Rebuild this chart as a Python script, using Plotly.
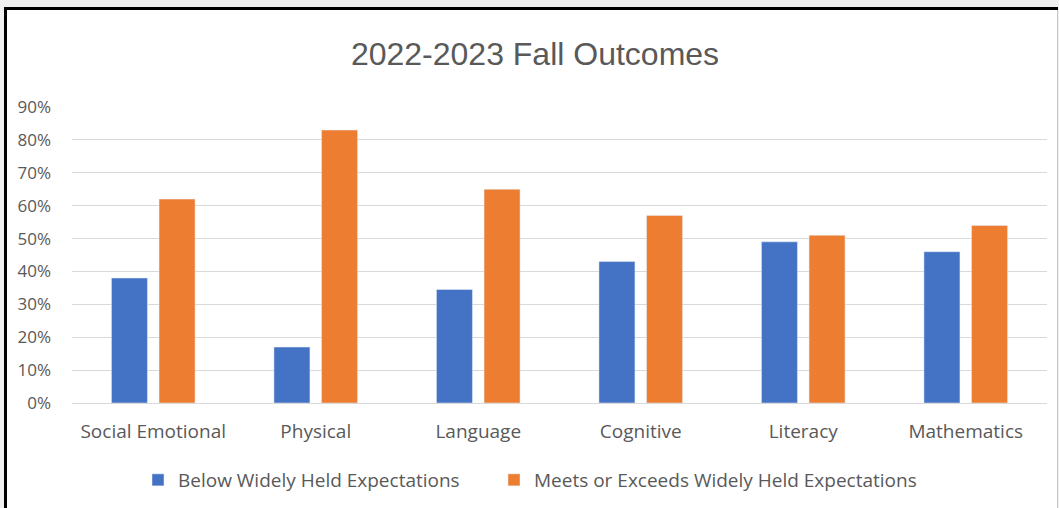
import plotly.graph_objects as go

categories = ["Social Emotional", "Physical", "Language", "Cognitive", "Literacy", "Mathematics"]
below = [0.38, 0.17, 0.345, 0.43, 0.49, 0.46]
meets = [0.62, 0.83, 0.65, 0.57, 0.51, 0.54]
series_names = ["Below Widely Held Expectations", "Meets or Exceeds Widely Held Expectations"]
y_ticks = [0, 0.1, 0.2, 0.3, 0.4, 0.5, 0.6, 0.7, 0.8, 0.9]

W, H = 1059, 508
ML, MR, MT, MB = 72, 12, 107, 105
PW, PH = W - ML - MR, H - MT - MB

def px(x):
    return (x - ML) / PW

def py(y):
    return (H - MB - y) / PH

FONT = "Open Sans"
GRAY = "#595959"

fig = go.Figure()
fig.add_trace(go.Bar(x=categories, y=below, name=series_names[0], marker_color="#4472C4",
                     legend="legend", showlegend=True))
fig.add_trace(go.Bar(x=categories, y=meets, name=series_names[1], marker_color="#ED7D31",
                     legend="legend2", showlegend=True))

shapes = [
    dict(type="rect", xref="paper", yref="paper", x0=px(4), x1=px(1058), y0=py(7), y1=py(510),
         fillcolor="white", line=dict(width=0), layer="below"),
    dict(type="line", xref="paper", yref="paper", x0=px(5.5), x1=px(5.5), y0=py(7), y1=py(512),
         line=dict(color="black", width=3), layer="below"),
    dict(type="line", xref="paper", yref="paper", x0=px(4), x1=px(1058), y0=py(8.5), y1=py(8.5),
         line=dict(color="black", width=3), layer="below"),
    dict(type="line", xref="paper", yref="paper", x0=px(1057.5), x1=px(1057.5), y0=py(10), y1=py(512),
         line=dict(color="#c8c8c8", width=1), layer="below"),
]

legend_common = dict(orientation="h", xref="container", xanchor="left",
                     y=1 - 480 / H, yref="container", yanchor="middle",
                     font=dict(family=FONT, size=19, color=GRAY), bgcolor="rgba(0,0,0,0)",
                     itemwidth=30, visible=True)

fig.update_layout(
    width=W, height=H,
    showlegend=True,
    margin=dict(l=ML, r=MR, t=MT, b=MB, pad=0),
    paper_bgcolor="#f0f0f0",
    plot_bgcolor="rgba(0,0,0,0)",
    shapes=shapes,
    title=dict(text="2022-2023 Fall Outcomes", x=535 / W, xref="container", xanchor="center",
               y=1 - 54 / H, yref="container", yanchor="middle",
               font=dict(family="Liberation Sans, Arial", size=32, color=GRAY)),
    barmode="group",
    bargap=0.414,
    bargroupgap=0.244,
    font=dict(family=FONT, color=GRAY, size=17),
    legend=dict(x=138 / W, **legend_common),
    legend2=dict(x=494 / W, **legend_common),
    xaxis=dict(showgrid=False, showline=False, zeroline=False, ticks="",
               tickfont=dict(family=FONT, size=19, color=GRAY), ticklabelstandoff=15),
    yaxis=dict(range=[0, 0.9], tickvals=y_ticks, tickformat=".0%", showgrid=True,
               gridcolor="#d9d9d9", gridwidth=1, zeroline=True, zerolinecolor="#d9d9d9",
               zerolinewidth=1, showline=False, ticks="",
               tickfont=dict(family=FONT, size=17, color=GRAY), ticklabelstandoff=20),
)

fig.write_html(
    "out.html",
    config={"displayModeBar": False},
    post_script="document.body.style.margin='0px';document.body.style.background='#f0f0f0';",
)
